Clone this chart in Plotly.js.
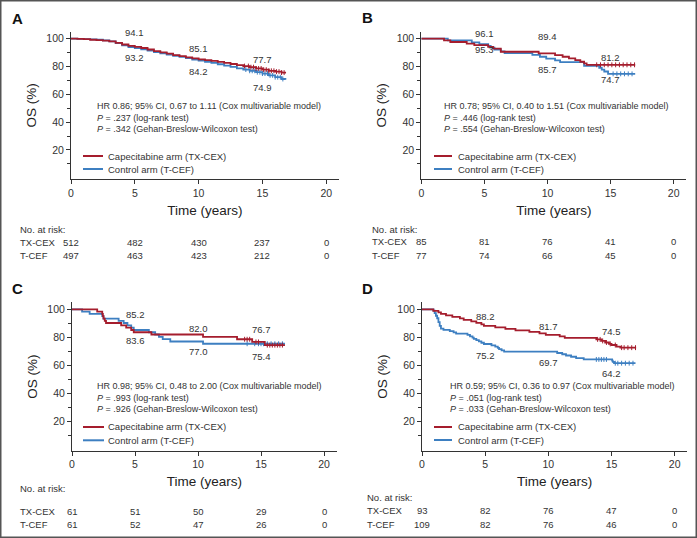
<!DOCTYPE html>
<html><head><meta charset="utf-8">
<script src="https://cdn.plot.ly/plotly-3.0.1.min.js"></script>
<style>html,body{margin:0;padding:0;background:#fff}</style>
</head><body><div id="chart" style="width:697px;height:538px"></div>
<script>
// ---------------- DATA ----------------
const riskTimes = [0, 5, 10, 15, 20];
const seriesNames = ['Capecitabine arm (TX-CEX)', 'Control arm (T-CEF)'];
const rowLabels = ['TX-CEX', 'T-CEF'];
const landmarkTimes = [5, 10, 15];

// Panel A
const A_tx_t = [0,0.5,1,1.5,2,2.5,3,3.5,4,4.5,5,5.5,6,6.5,7,7.5,8,8.5,9,9.5,10,10.5,11,11.5,12,12.5,13,13.5,14,14.5,15,15.5,16,16.5,16.85];
const A_tx_s = [100,99.8,99.6,99.2,99.0,98.6,98.0,97.0,95.8,94.8,94.1,93.3,92.2,91.0,90.2,89.3,88.2,87.4,86.6,85.8,85.1,84.6,84.0,83.3,82.6,81.8,81.0,80.3,79.5,78.6,77.7,76.9,76.3,75.6,75.6];
const A_tx_cens = [13.6,13.9,14.1,14.3,14.5,14.7,14.9,15.1,15.3,15.5,15.7,15.9,16.1,16.3,16.5,16.7];
const A_tc_t = [0,0.5,1,1.5,2,2.5,3,3.5,4,4.5,5,5.5,6,6.5,7,7.5,8,8.5,9,9.5,10,10.5,11,11.5,12,12.5,13,13.5,14,14.5,15,15.5,16,16.5,16.8];
const A_tc_s = [100,99.9,99.7,99.5,99.2,98.8,98.1,96.8,95.2,94.0,93.2,92.3,91.4,90.3,89.5,88.6,87.7,86.9,86.0,85.0,84.2,83.4,82.6,81.6,80.6,79.7,78.7,77.8,76.9,75.9,74.9,73.6,72.3,71.0,70.4];
const A_tc_cens = [13.7,14.0,14.2,14.4,14.6,14.8,15.0,15.2,15.4,15.6,15.8,16.0,16.2,16.4,16.6];
const A_land_tx = [94.1, 85.1, 77.7];
const A_land_tc = [93.2, 84.2, 74.9];
const A_risk_tx = [512, 482, 430, 237, 0];
const A_risk_tc = [497, 463, 423, 212, 0];
const A_stats = ['HR 0.86; 95% CI, 0.67 to 1.11 (Cox multivariable model)', '<i>P</i> = .237 (log-rank test)', '<i>P</i> = .342 (Gehan-Breslow-Wilcoxon test)'];

// Panel B
const B_tx_t = [0,1.8,2.3,3.6,4.2,5.3,5.7,6.3,9.3,10.6,11.2,11.7,12.2,12.6,12.9,13.1,16.95];
const B_tx_s = [100,98.8,97.6,96.5,95.3,94.1,92.9,90.6,89.4,88.2,87.0,85.8,84.6,83.4,82.3,81.2,81.2];
const B_tx_cens = [13.9,14.2,14.5,14.8,15.1,15.4,15.7,16.0,16.3,16.6,16.9];
const B_tc_t = [0,2.1,4.0,4.6,5.3,5.5,5.8,6.3,6.6,8.8,9.4,9.9,10.6,11.0,12.9,14.1,14.3,14.5,14.8,16.95];
const B_tc_s = [100,98.7,97.4,96.1,94.8,93.5,92.2,90.9,89.6,88.3,87.0,85.7,84.4,83.1,80.5,79.1,77.8,76.4,74.7,74.7];
const B_tc_cens = [15.2,15.5,15.8,16.1,16.4,16.7];
const B_land_tx = [95.3, 89.4, 81.2];
const B_land_tc = [96.1, 85.7, 74.7];
const B_risk_tx = [85, 81, 76, 41, 0];
const B_risk_tc = [77, 74, 66, 45, 0];
const B_stats = ['HR 0.78; 95% CI, 0.40 to 1.51 (Cox multivariable model)', '<i>P</i> = .446 (log-rank test)', '<i>P</i> = .554 (Gehan-Breslow-Wilcoxon test)'];

// Panel C
const C_tx_t = [0,2.0,2.4,2.45,2.5,2.6,2.7,3.9,4.3,4.7,4.9,6.3,10.4,13.1,14.3,15.3,16.9];
const C_tx_s = [100,98.4,96.7,95.1,93.4,91.8,90.2,88.5,86.9,85.2,83.6,82.0,80.3,78.6,76.7,74.4,74.4];
const C_tx_cens = [13.7,13.9,14.1,14.6,14.8,15.5,15.7,15.9,16.1,16.3,16.5,16.7];
const C_tc_t = [0,0.8,1.4,2.4,2.5,3.7,4.1,4.4,4.7,4.9,6.1,6.6,6.9,7.2,7.8,10.4,16.9];
const C_tc_s = [100,98.4,96.7,95.1,93.4,91.8,90.2,88.5,86.9,85.2,83.6,82.0,80.3,78.7,77.0,75.4,75.4];
const C_tc_cens = [13.9,14.5,14.8,15.0,15.2,15.5,15.8,16.1,16.4,16.7];
const C_land_tx = [83.6, 82.0, 76.7];
const C_land_tc = [85.2, 77.0, 75.4];
const C_risk_tx = [61, 51, 50, 29, 0];
const C_risk_tc = [61, 52, 47, 26, 0];
const C_stats = ['HR 0.98; 95% CI, 0.48 to 2.00 (Cox multivariable model)', '<i>P</i> = .993 (log-rank test)', '<i>P</i> = .926 (Gehan-Breslow-Wilcoxon test)'];

// Panel D
const D_tx_t = [0,0.9,1.3,1.5,1.9,2.4,3.0,3.3,3.9,4.3,4.7,4.9,5.8,6.6,7.4,8.5,9.3,9.8,10.9,11.3,13.8,14.2,14.5,14.8,15.0,15.4,15.7,16.95];
const D_tx_s = [100,98.9,97.8,96.7,95.6,94.6,93.5,92.4,91.4,90.3,89.2,88.2,87.1,86.0,84.9,83.9,82.8,81.7,80.6,79.6,78.5,77.4,76.3,75.3,74.5,73.4,72.6,72.6];
const D_tx_cens = [13.9,14.1,14.3,14.6,14.9,15.3,15.8,16.0,16.3,16.6,16.9];
const D_tc_t = [0,0.9,1.0,1.1,1.2,1.3,1.4,1.5,1.7,2.2,2.5,2.7,3.6,3.8,4.0,4.1,4.3,4.5,4.7,4.9,5.5,5.8,6.0,6.1,6.3,6.5,10.7,11.1,11.4,11.8,12.2,12.8,15.05,15.1,15.2,16.9];
const D_tc_s = [100,99.1,97.2,95.4,93.6,90.8,88.1,86.2,85.3,84.4,83.5,82.6,81.7,80.7,79.8,78.9,78.0,77.1,76.1,75.2,74.3,73.4,72.5,71.6,70.6,69.7,68.8,67.9,67.0,66.1,65.1,64.2,63.3,62.4,61.5,61.5];
const D_tc_cens = [13.8,14.0,14.2,14.4,14.6,15.3,15.5,15.8,16.1,16.4,16.7];
const D_land_tx = [88.2, 81.7, 74.5];
const D_land_tc = [75.2, 69.7, 64.2];
const D_risk_tx = [93, 82, 76, 47, 0];
const D_risk_tc = [109, 82, 76, 46, 0];
const D_stats = ['HR 0.59; 95% CI, 0.36 to 0.97 (Cox multivariable model)', '<i>P</i> = .051 (log-rank test)', '<i>P</i> = .033 (Gehan-Breslow-Wilcoxon test)'];

// ---------------- STYLE / LAYOUT ----------------
const W = 697, H = 538;
const PX = v => v / W, PY = v => 1 - v / H;
const FONT = "'Liberation Sans',Arial,sans-serif";
const TXT = '#333333';
const RED = '#a51d2d', BLUE = '#3d7fc1';

const panels = [
  {letter:'A', tx:[A_tx_t,A_tx_s,A_tx_cens], tc:[A_tc_t,A_tc_s,A_tc_cens], land:[A_land_tx,A_land_tc], risk:[A_risk_tx,A_risk_tc], stats:A_stats,
   xdom:[71,339], ydom:[31.7,179.2], letterPos:[10,18], statsX:96, statsY:100,
   legX:[83,103,107], legY:[156,169], riskX:19, riskY:[229,242,255],
   offTx:[-14,-10.6,-10], offTc:[9,11,14]},
  {letter:'B', tx:[B_tx_t,B_tx_s,B_tx_cens], tc:[B_tc_t,B_tc_s,B_tc_cens], land:[B_land_tx,B_land_tc], risk:[B_risk_tx,B_risk_tc], stats:B_stats,
   xdom:[421.3,686.3], ydom:[31.7,179.2], letterPos:[360,17], statsX:443, statsY:100,
   legX:[434,452,457], legY:[156,169], riskX:371, riskY:[229.3,241.7,255.3],
   offTx:[4,-16.7,-7.6], offTc:[-10.4,11,6]},
  {letter:'C', tx:[C_tx_t,C_tx_s,C_tx_cens], tc:[C_tc_t,C_tc_s,C_tc_cens], land:[C_land_tx,C_land_tc], risk:[C_risk_tx,C_risk_tc], stats:C_stats,
   xdom:[72,336.6], ydom:[302.3,450.7], letterPos:[10,288], statsX:96, statsY:379.5,
   legX:[83,104,107], legY:[427,440.3], riskX:19, riskY:[488.7,511.3,524.7],
   offTx:[8.4,-5.8,-12.6], offTc:[-15.4,9.8,12.6]},
  {letter:'D', tx:[D_tx_t,D_tx_s,D_tx_cens], tc:[D_tc_t,D_tc_s,D_tc_cens], land:[D_land_tx,D_land_tc], risk:[D_risk_tx,D_risk_tc], stats:D_stats,
   xdom:[422,687.3], ydom:[302.3,450.7], letterPos:[360,288], statsX:448.7, statsY:380,
   legX:[434,452,457], legY:[427,440], riskX:366, riskY:[497.3,510.7,524.7],
   offTx:[-9.3,-8.9,-13.9], offTc:[11.7,11,14.4]}
];

function stepAt(ts, ss, t) {
  let v = ss[0];
  for (let i = 0; i < ts.length; i++) if (ts[i] <= t) v = ss[i];
  return v;
}

const traces = [], annotations = [], shapes = [];
const layout = {
  width: W, height: H, margin: {l:0, r:0, t:0, b:0},
  paper_bgcolor: '#fff', plot_bgcolor: '#fff', showlegend: false,
  font: {family: FONT, color: TXT, size: 10}
};

panels.forEach((p, i) => {
  const n = i + 1, sx = n === 1 ? '' : String(n);
  const xa = 'x' + sx, ya = 'y' + sx;
  layout['xaxis' + sx] = {
    domain: [PX(p.xdom[0]), PX(p.xdom[1])], range: [0, 21], anchor: ya,
    tickvals: riskTimes, ticks: 'outside', ticklen: 4, tickcolor: '#333', tickwidth: 1,
    showline: true, linecolor: '#333', linewidth: 1, showgrid: false, zeroline: false,
    tickfont: {family: FONT, size: 10.5, color: TXT},
    title: {text: 'Time (years)', font: {family: FONT, size: 13.5, color: '#222'}, standoff: 7},
    fixedrange: true
  };
  layout['yaxis' + sx] = {
    domain: [PY(p.ydom[1]), PY(p.ydom[0])], range: [-1, 105], anchor: xa,
    tickvals: [20, 40, 60, 80, 100], ticks: 'outside', ticklen: 4, tickcolor: '#333', tickwidth: 1,
    minor: {tickvals: [10, 30, 50, 70, 90], ticks: 'outside', ticklen: 3, tickcolor: '#333'},
    showline: true, linecolor: '#333', linewidth: 1, showgrid: false, zeroline: false,
    tickfont: {family: FONT, size: 10.5, color: TXT},
    title: {text: 'OS (%)', font: {family: FONT, size: 13.5, color: '#222'}, standoff: 6},
    fixedrange: true
  };
  const arms = [[p.tx, RED, seriesNames[0]], [p.tc, BLUE, seriesNames[1]]];
  [arms[1], arms[0]].forEach(([d, col, nm]) => {
    traces.push({x: d[0], y: d[1], mode: 'lines', line: {shape: 'hv', color: col, width: 1.8},
      xaxis: xa, yaxis: ya, name: nm, hoverinfo: 'skip'});
    traces.push({x: d[2], y: d[2].map(t => stepAt(d[0], d[1], t)), mode: 'markers',
      marker: {symbol: 'line-ns-open', size: 3.5, color: col, line: {color: col, width: 1}},
      xaxis: xa, yaxis: ya, name: nm + ' censored', hoverinfo: 'skip'});
  });
  annotations.push({xref: 'paper', yref: 'paper', x: PX(p.letterPos[0]), y: PY(p.letterPos[1]),
    xanchor: 'left', yanchor: 'middle', showarrow: false, text: '<b>' + p.letter + '</b>',
    font: {family: FONT, size: 15, color: '#111'}});
  annotations.push({xref: 'paper', yref: 'paper', x: PX(p.statsX), y: PY(p.statsY),
    xanchor: 'left', yanchor: 'top', align: 'left', showarrow: false, text: p.stats.join('<br>'),
    borderpad: 0, font: {family: FONT, size: 9, color: TXT}});
  landmarkTimes.forEach((t, k) => {
    annotations.push({xref: xa, yref: ya, x: t, y: p.land[0][k], yshift: -p.offTx[k], showarrow: false, borderpad: 0,
      xanchor: 'center', yanchor: 'middle', text: p.land[0][k].toFixed(1), font: {family: FONT, size: 9.5, color: TXT}});
    annotations.push({xref: xa, yref: ya, x: t, y: p.land[1][k], yshift: -p.offTc[k], showarrow: false, borderpad: 0,
      xanchor: 'center', yanchor: 'middle', text: p.land[1][k].toFixed(1), font: {family: FONT, size: 9.5, color: TXT}});
  });
  [[RED, seriesNames[0]], [BLUE, seriesNames[1]]].forEach(([col, nm], k) => {
    shapes.push({type: 'line', xref: 'paper', yref: 'paper', x0: PX(p.legX[0]), x1: PX(p.legX[1]),
      y0: PY(p.legY[k]), y1: PY(p.legY[k]), line: {color: col, width: 2}});
    annotations.push({xref: 'paper', yref: 'paper', x: PX(p.legX[2]), y: PY(p.legY[k]), xanchor: 'left', yanchor: 'middle',
      showarrow: false, borderpad: 0, text: nm, font: {family: FONT, size: 9.5, color: TXT}});
  });
  annotations.push({xref: 'paper', yref: 'paper', x: PX(p.riskX), y: PY(p.riskY[0]), xanchor: 'left', yanchor: 'middle',
    showarrow: false, borderpad: 0, text: 'No. at risk:', font: {family: FONT, size: 9.5, color: TXT}});
  [0, 1].forEach(r => {
    annotations.push({xref: 'paper', yref: 'paper', x: PX(p.riskX), y: PY(p.riskY[r + 1]), xanchor: 'left', yanchor: 'middle',
      showarrow: false, borderpad: 0, text: rowLabels[r], font: {family: FONT, size: 9.5, color: TXT}});
    riskTimes.forEach((t, k) => annotations.push({xref: xa, yref: 'paper', x: t, y: PY(p.riskY[r + 1]),
      xanchor: 'center', yanchor: 'middle', showarrow: false, borderpad: 0, text: String(p.risk[r][k]),
      font: {family: FONT, size: 9.5, color: TXT}}));
  });
});

shapes.push({type: 'rect', xref: 'paper', yref: 'paper', x0: 0, x1: 1, y0: 0, y1: 1, line: {color: '#555', width: 3}});
layout.annotations = annotations;
layout.shapes = shapes;

Plotly.newPlot('chart', traces, layout, {staticPlot: true, displayModeBar: false});
</script></body></html>
